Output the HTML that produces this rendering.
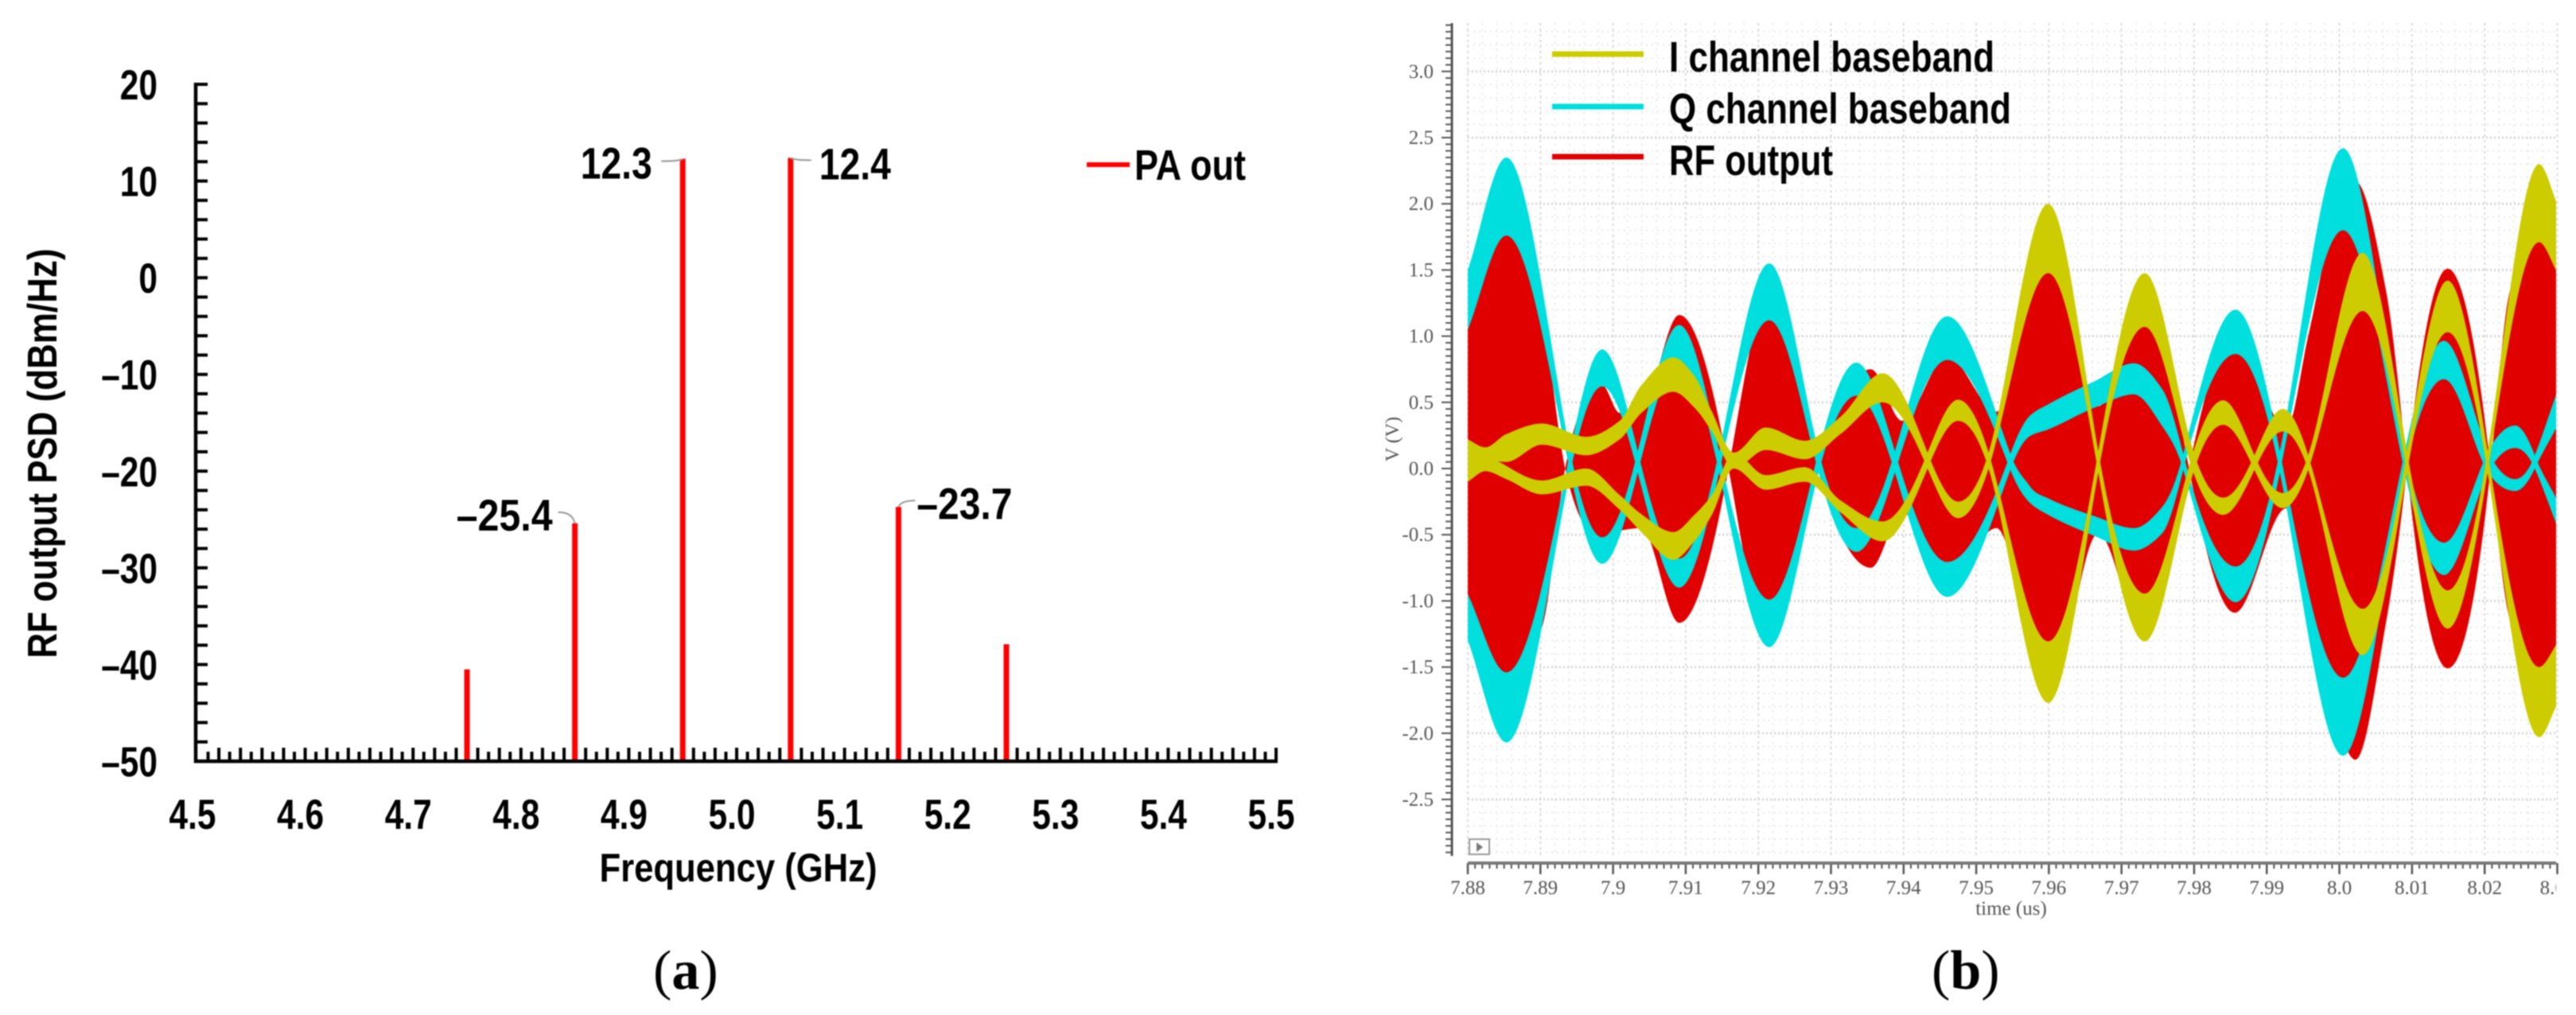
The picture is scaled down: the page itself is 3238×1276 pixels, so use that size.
<!DOCTYPE html>
<html>
<head>
<meta charset="utf-8">
<title>PA output spectrum and transient waveforms</title>
<style>
html,body{margin:0;padding:0;background:#fff;width:3238px;height:1276px;overflow:hidden}
svg{display:block;filter:blur(0.7px)}
.sans{font-family:"Liberation Sans",sans-serif;font-weight:bold;fill:#000}
.serif{font-family:"Liberation Serif",serif;fill:#555}
.cap{font-family:"Liberation Serif",serif;fill:#000}
</style>
</head>
<body>
<svg id="fig" xmlns="http://www.w3.org/2000/svg" width="3238" height="1276" viewBox="0 0 3238 1276">
  <defs>
    <clipPath id="plotClip"><rect x="1845" y="29" width="1368" height="1047"/></clipPath>
    <clipPath id="edgeClip"><rect x="1700" y="1000" width="1513" height="200"/></clipPath>
  </defs>
  <g id="panelA">
    <g id="aTicks"></g>
    <g id="aLabels"></g>
    <g id="aBars"></g>
    <g id="aNotes"></g>
    <path d="M246 104V957H1606" fill="none" stroke="#000" stroke-width="4.5"/>
    <text class="sans" font-size="52" text-anchor="middle" transform="translate(71 570) rotate(-90)" textLength="515" lengthAdjust="spacingAndGlyphs">RF output PSD (dBm/Hz)</text>
    <text class="sans" font-size="50" text-anchor="middle" x="928" y="1108" textLength="349" lengthAdjust="spacingAndGlyphs">Frequency (GHz)</text>
    <line x1="1366" y1="207" x2="1420" y2="207" stroke="#ff0000" stroke-width="6"/>
    <text class="sans" font-size="54" x="1426" y="226" textLength="140" lengthAdjust="spacingAndGlyphs">PA out</text>
    <text class="cap" font-size="70" x="821" y="1243">(<tspan font-weight="bold">a</tspan>)</text>
  </g>
  <g id="panelB">
    <g id="bGrid"></g>
    <g clip-path="url(#plotClip)">
      <g id="bSeries"></g>
    </g>
    <g id="bTicks"></g>
    <g id="bLabels" clip-path="url(#edgeClip)"></g>
    <g id="bYLabels"></g>
    <line x1="1825" y1="29" x2="1825" y2="1076" stroke="#555" stroke-width="3"/>
    <line x1="1845" y1="1085" x2="3213" y2="1085" stroke="#777" stroke-width="4"/>
    <text class="serif" font-size="24" text-anchor="middle" transform="translate(1758 552) rotate(-90)">V (V)</text>
    <text class="serif" font-size="25" text-anchor="middle" x="2528" y="1150">time (us)</text>
    <g>
      <rect x="1847" y="1055" width="25" height="19" fill="#fff" stroke="#999" stroke-width="2"/>
      <path d="M1856 1059L1864 1065L1856 1071Z" fill="#777"/>
    </g>
    <g>
      <line x1="1951" y1="68" x2="2066" y2="68" stroke="#cccc00" stroke-width="7"/>
      <line x1="1951" y1="134" x2="2066" y2="134" stroke="#00dede" stroke-width="7"/>
      <line x1="1951" y1="197" x2="2066" y2="197" stroke="#e00000" stroke-width="7"/>
      <text class="sans" font-size="54" x="2098" y="90" textLength="409" lengthAdjust="spacingAndGlyphs">I channel baseband</text>
      <text class="sans" font-size="54" x="2098" y="155" textLength="430" lengthAdjust="spacingAndGlyphs">Q channel baseband</text>
      <text class="sans" font-size="54" x="2098" y="220" textLength="206" lengthAdjust="spacingAndGlyphs">RF output</text>
    </g>
    <text class="cap" font-size="70" x="2428" y="1243">(<tspan font-weight="bold">b</tspan>)</text>
  </g>
</svg>
<script>
/* Panel (a) data */
var psdFreqs = [4.75, 4.85, 4.95, 5.05, 5.15, 5.25];
var psdValues = [-40.5, -25.4, 12.3, 12.4, -23.7, -37.9];
var psdXTicks = ["4.5","4.6","4.7","4.8","4.9","5.0","5.1","5.2","5.3","5.4","5.5"];
var psdYTicks = [20, 10, 0, -10, -20, -30, -40, -50];

/* Panel (b) data: envelope knots (time in us, level in V) */
var timeTicks = ["7.88","7.89","7.9","7.91","7.92","7.93","7.94","7.95","7.96","7.97","7.98","7.99","8.0","8.01","8.02","8.03"];
var voltTicks = ["3.0","2.5","2.0","1.5","1.0","0.5","0.0","-0.5","-1.0","-1.5","-2.0","-2.5"];

var rfTimes = [7.88,7.8853,7.8902,7.8934,7.8985,7.9009,7.9039,7.9091,7.9159,7.9215,7.9283,7.9355,7.9398,7.9460,7.9528,7.9599,7.9668,7.9732,7.9793,7.9856,7.9927,7.9957,7.9992,8.0022,8.0064,8.0093,8.0149,8.0208,8.0235,8.0275,8.03];
var rfUpper = [1.08,1.85,1.15,0,-0.52,-0.47,-0.45,-1.166,0,1.3,0,-0.75,-0.33,-0.85,-0.45,-1.77,-0.49,-1.3,0,1.0,0.3,1.0,1.85,2.17,1.35,0,-1.51,0,1.35,1.8,1.5];
var rfLower = [-0.95,-1.6,-1.2,0,0.63,0.42,0.45,1.16,0,-1.3,0,0.75,0.36,0.85,0.43,1.75,0.47,1.3,0,-1.09,-0.3,-1.05,-1.85,-2.2,-1.17,0,1.51,0,-1.15,-1.55,-1.33];

var qTimes = [7.88,7.8853,7.8941,7.8985,7.9034,7.9091,7.9146,7.9215,7.9283,7.9335,7.9388,7.9460,7.9547,7.9574,7.9599,7.9663,7.9717,7.9756,7.9785,7.9857,7.9918,8.0005,8.0090,8.0144,8.0205,8.0242,8.0269,8.03];
var qStrandATop = [1.5,2.35,0.13,-0.52,0.13,1.085,0.13,-0.99,0.13,0.8,0.13,-0.706,0.11,0.4,0.485,0.66,0.795,0.6,0.11,-0.74,0.13,2.42,0.13,-0.56,0.13,0.325,0.1,-0.24];
var qStrandABot = [1.05,1.76,-0.03,-0.72,-0.03,0.8,-0.03,-1.35,-0.03,0.55,-0.03,-0.97,-0.01,0.245,0.295,0.46,0.56,0.32,-0.01,-1.01,-0.03,1.8,-0.03,-0.805,-0.03,0.155,0,-0.44];
var qStrandBTop = [-0.95,-1.54,0.13,0.9,0.13,-0.68,0.13,1.55,0.13,-0.45,0.13,1.15,0.11,-0.135,-0.225,-0.36,-0.45,-0.29,0.11,1.2,0.13,-1.58,0.13,0.965,0.13,-0.08,0.1,0.585];
var qStrandBBot = [-1.3,-2.07,-0.03,0.62,-0.03,-0.9,-0.03,1.12,-0.03,-0.63,-0.03,0.82,-0.01,-0.26,-0.35,-0.51,-0.62,-0.49,-0.01,0.865,-0.03,-2.17,-0.03,0.675,-0.03,-0.17,0,0.32];

var iTimes = [7.88,7.8824,7.8853,7.8902,7.8963,7.9009,7.9039,7.9083,7.9112,7.9136,7.9166,7.9210,7.9264,7.9313,7.9371,7.9433,7.9475,7.9517,7.9599,7.9668,7.9732,7.9799,7.9840,7.9883,7.9922,7.9957,8.0032,8.0093,8.0149,8.0204,8.0275,8.03];
var iStrandATop = [0.22,0.16,0.26,0.34,0.24,0.36,0.63,0.84,0.70,0.43,0.12,0.31,0.21,0.39,0.72,0.12,-0.25,0.12,2.0,0.13,-0.945,0.13,0.515,0.1,-0.185,0.1,1.63,0.13,-0.92,0.13,2.3,2.0];
var iStrandABot = [0.06,0.06,0.05,0.18,0.10,0.22,0.42,0.58,0.46,0.28,0,0.14,0.07,0.26,0.5,0,-0.375,0,1.476,-0.03,-1.306,-0.03,0.33,-0.01,-0.3,-0.01,1.19,-0.03,-1.21,-0.03,1.71,1.48];
var iStrandBTop = [0.06,0.08,0.02,-0.09,0,-0.2,-0.345,-0.48,-0.35,-0.2,0.12,-0.05,0.01,-0.24,-0.4,0.12,0.52,0.12,-1.306,0.13,1.476,0.13,-0.22,0.1,0.45,0.1,-1.06,0.13,1.42,0.13,-1.5,-1.32];
var iStrandBBot = [-0.1,-0.02,-0.08,-0.195,-0.13,-0.31,-0.48,-0.69,-0.55,-0.35,0,-0.16,-0.1,-0.33,-0.55,0,0.36,0,-1.77,-0.03,1.07,-0.03,-0.35,-0.01,0.28,-0.01,-1.41,-0.03,1.03,-0.03,-2.03,-1.78];

var SVGNS = "http://www.w3.org/2000/svg";
function make(parentId, tag, attrs, text) {
  var el = document.createElementNS(SVGNS, tag);
  for (var k in attrs) el.setAttribute(k, attrs[k]);
  if (text !== undefined) el.textContent = text;
  document.getElementById(parentId).appendChild(el);
  return el;
}

/* Axis functions */
function xA(f) { return 248 + (f - 4.5) * 1356; }
function yA(v) { return 106 + (20 - v) * 12.157; }
function xB(t) { return 1845 + (t - 7.88) * 9130; }
function yB(v) { return 589 - v * 166.4; }
function dashLabel(v) { return String(v).replace("-", "\u2013"); }
function squeeze(el, factor) {
  var w = el.getComputedTextLength();
  el.setAttribute("textLength", (w * factor).toFixed(1));
  el.setAttribute("lengthAdjust", "spacingAndGlyphs");
}

/* Panel (a) ticks */
for (var i = 1; i <= 100; i++) {
  var fx = xA(4.5 + i / 100);
  var xt = make("aTicks", "line", {x1: fx, x2: fx, y1: 957, y2: i % 2 ? 945 : 940, stroke: "#000", "stroke-width": 4});
  
  
}
for (var j = 0; j < 35; j++) {
  var fy = yA(20 - j * 2);
  var yt = make("aTicks", "line", {x1: 246, x2: 261, y1: fy, y2: fy, stroke: "#000", "stroke-width": 4});
  
  
}
psdXTicks.forEach(function (t) {
  var lx = make("aLabels", "text", {"class": "sans", "font-size": 53, "text-anchor": "middle", x: xA(parseFloat(t)) - 6, y: 1042}, t);
  
  
  squeeze(lx, 0.8);
});
psdYTicks.forEach(function (v) {
  var ly = make("aLabels", "text", {"class": "sans", "font-size": 53, "text-anchor": "end", x: 198, y: yA(v) + 19}, dashLabel(v));
  
  
  squeeze(ly, 0.8);
});

/* Panel (a) bars */
psdFreqs.forEach(function (f, k) {
  var bar = make("aBars", "line", {x1: xA(f), x2: xA(f), y1: 957, y2: yA(psdValues[k]), stroke: "#ff0000", "stroke-width": 7});
  
  
});

/* Panel (a) annotations, placed relative to their peak */
function annotate(k, anchor, dx, dy, width, lx, ly) {
  var px = xA(psdFreqs[k]), py = yA(psdValues[k]);
  var note = make("aNotes", "text", {"class": "sans", "font-size": 56, "text-anchor": anchor, x: px + dx, y: py + dy, textLength: width, lengthAdjust: "spacingAndGlyphs"}, dashLabel(psdValues[k]));
  
  
  var lead = make("aNotes", "path", {d: "M" + px + " " + py + "Q" + (px + (lx > 0 ? 3 : -3)) + " " + (py + ly) + " " + (px + lx) + " " + (py + ly), fill: "none", stroke: "#999", "stroke-width": 2});
  
  
}
annotate(2, "end", -38.5, 25, 90, -27, 3);
annotate(3, "start", 36, 27, 90, 26, 3);
annotate(1, "end", -28, 9, 121, -21, -14);
annotate(4, "start", 23, 15, 120, 21, -8);

/* Panel (b) grid */
for (var g = 0; g <= 75; g++) {
  var gx = xB(7.88 + g * 0.002);
  var vMajor = g % 5 === 0;
  var vl = make("bGrid", "line", {x1: gx, x2: gx, y1: 29, y2: 1076, stroke: vMajor ? "#d8d8d8" : "#e8e8e8", "stroke-width": 2, "stroke-dasharray": vMajor ? "3 4" : "2 6"});
  
  
}
for (var h = -29; h <= 33; h++) {
  var gy = yB(h / 10);
  var hMajor = h % 5 === 0;
  var hl = make("bGrid", "line", {x1: 1845, x2: 3213, y1: gy, y2: gy, stroke: hMajor ? "#d4d4d4" : "#e8e8e8", "stroke-width": hMajor ? 3 : 2, "stroke-dasharray": hMajor ? "2 3" : "2 5"});
  
  
}

/* Panel (b) ticks and labels */
for (var m = 0; m <= 150; m++) {
  var tx = xB(7.88 + m * 0.001);
  var bt = make("bTicks", "line", {x1: tx, x2: tx, y1: 1085, y2: m % 10 === 0 ? 1099 : 1092, stroke: "#555", "stroke-width": m % 10 === 0 ? 2.5 : 2});
  
  
}
for (var n = -58; n <= 67; n++) {
  var ty = yB(n * 0.05);
  var vt = make("bTicks", "line", {x1: 1825, x2: n % 10 === 0 ? 1812 : 1817, y1: ty, y2: ty, stroke: "#555", "stroke-width": 2});
  
  
}
timeTicks.forEach(function (t) {
  var tl = make("bLabels", "text", {"class": "serif", "font-size": 25, "text-anchor": "middle", x: xB(parseFloat(t)), y: 1124}, t);
  
  
});
voltTicks.forEach(function (v) {
  var vl2 = make("bYLabels", "text", {"class": "serif", "font-size": 25, "text-anchor": "end", x: 1802, y: yB(parseFloat(v)) + 8}, v);
  
  
});

/* Monotone cubic through envelope knots; steeper through true zero crossings so lobes stay round */
function curve(ts, vs) {
  var n = ts.length, d = [], tan = [];
  for (var i = 0; i < n - 1; i++) d.push((vs[i + 1] - vs[i]) / (ts[i + 1] - ts[i]));
  tan[0] = d[0];
  tan[n - 1] = d[n - 2];
  for (var j = 1; j < n - 1; j++) {
    if (d[j - 1] * d[j] <= 0) { tan[j] = 0; continue; }
    var h0 = ts[j] - ts[j - 1], h1 = ts[j + 1] - ts[j];
    var w1 = 2 * h1 + h0, w2 = h1 + 2 * h0;
    tan[j] = (w1 + w2) / (w1 / d[j - 1] + w2 / d[j]);
    if (Math.abs(vs[j]) <= 0.14 && vs[j - 1] * vs[j + 1] < 0) {
      var lim = 3 * Math.min(Math.abs(d[j - 1]), Math.abs(d[j]));
      var boosted = Math.min(Math.abs(tan[j]) * 1.5, lim);
      tan[j] = tan[j] < 0 ? -boosted : boosted;
    }
  }
  return function (t) {
    var k = 0;
    while (k < n - 2 && t > ts[k + 1]) k++;
    var h = ts[k + 1] - ts[k], s = (t - ts[k]) / h, s2 = s * s, s3 = s2 * s;
    return (2 * s3 - 3 * s2 + 1) * vs[k] + (s3 - 2 * s2 + s) * h * tan[k] + (-2 * s3 + 3 * s2) * vs[k + 1] + (s3 - s2) * h * tan[k + 1];
  };
}
function bandPath(ts, top, bot) {
  var f = curve(ts, top), g = curve(ts, bot), fwd = [], back = [];
  for (var px = 1845; px <= 3213; px += 2) {
    var t = 7.88 + (px - 1845) / 9130;
    fwd.push(px + " " + yB(f(t)).toFixed(1));
    back.unshift(px + " " + yB(g(t)).toFixed(1));
  }
  return "M" + fwd.join("L") + "L" + back.join("L") + "Z";
}

var rfBand = make("bSeries", "path", {d: bandPath(rfTimes, rfUpper, rfLower), fill: "#e00000"});



var qBandA = make("bSeries", "path", {d: bandPath(qTimes, qStrandATop, qStrandABot), fill: "#00dede"});


var qBandB = make("bSeries", "path", {d: bandPath(qTimes, qStrandBTop, qStrandBBot), fill: "#00dede"});



var iBandA = make("bSeries", "path", {d: bandPath(iTimes, iStrandATop, iStrandABot), fill: "#cccc00"});


var iBandB = make("bSeries", "path", {d: bandPath(iTimes, iStrandBTop, iStrandBBot), fill: "#cccc00"});


</script>
</body>
</html>
